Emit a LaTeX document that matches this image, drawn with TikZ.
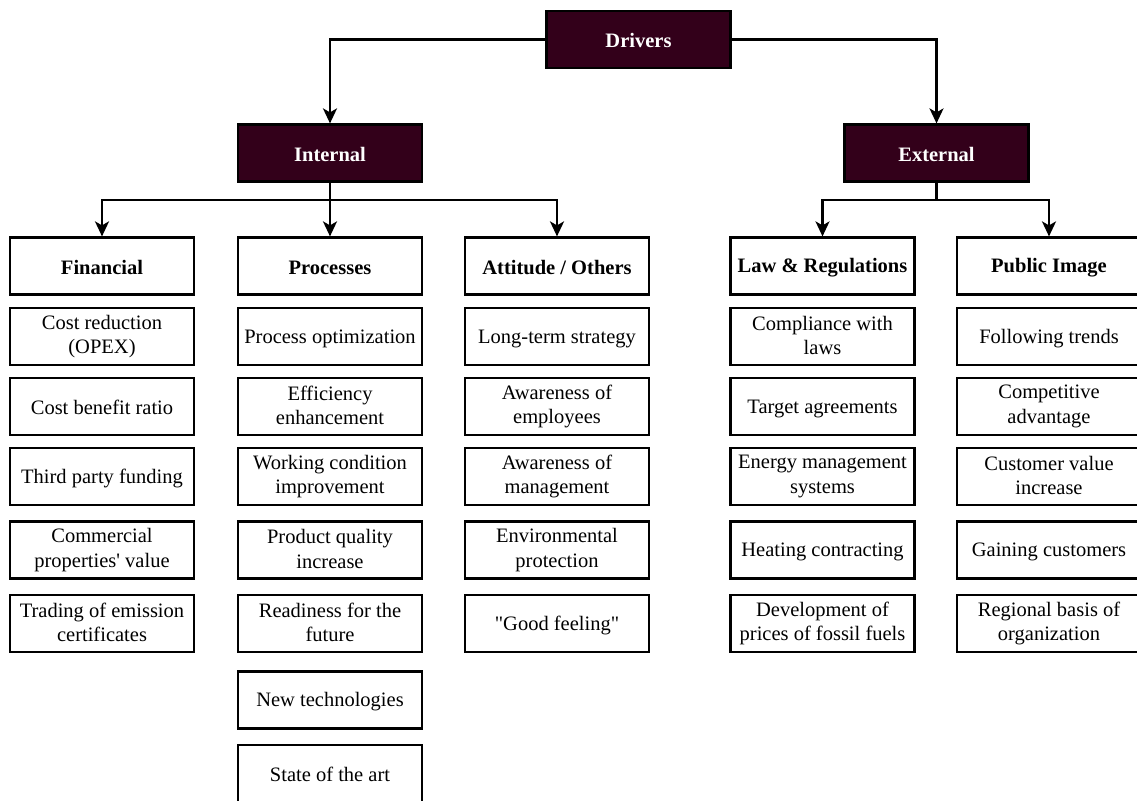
\documentclass[tikz,border=0pt]{standalone}
\usepackage{fontspec}
\setmainfont{Liberation Serif}[Ligatures=TeXOff]
\usetikzlibrary{arrows.meta}
\definecolor{darkbox}{HTML}{33001A}
\newcommand\boxstrut{\rule[-2pt]{0pt}{20pt}}
\tikzset{
  box/.style={draw=black, line width=2.2pt, minimum width=184pt, minimum height=57pt,
    inner sep=0pt, align=center, fill=white, font=\fontsize{20.5}{24.5}\selectfont,
    execute at begin node=\boxstrut, execute at end node=\boxstrut},
  head/.style={box, font=\fontsize{20.5}{24.5}\selectfont\bfseries},
  topbox/.style={head, fill=darkbox, text=white},
  link/.style={line width=2.2pt},
  conn/.style={line width=2.2pt, -{Stealth[length=15pt,width=14pt,inset=4pt]}}
}
\begin{document}
\begin{tikzpicture}[x=1pt,y=-1pt]
\useasboundingbox (0,0) rectangle (1137,800);
\clip (0,0) rectangle (1137,800);

% top level
\node[topbox] (drivers) at (638.5,39.5) {Drivers};
\node[topbox] (internal) at (330,153) {Internal};
\node[topbox] (external) at (936.5,153) {External};

% headers
\node[head] (fin) at (102,266) {Financial};
\node[head] (proc) at (330,266) {Processes};
\node[head] (att) at (557,266) {Attitude / Others};
\node[head] (law) at (822.5,266) {Law \& Regulations};
\node[head] (pub) at (1049,266) {Public Image};

% Financial
\node[box] (f1) at (102,336.5) {Cost reduction\\(OPEX)};
\node[box] (f2) at (102,406.5) {Cost benefit ratio};
\node[box] (f3) at (102,476.5) {Third party funding};
\node[box] (f4) at (102,550) {Commercial\\properties' value};
\node[box] (f5) at (102,623.5) {Trading of emission\\certificates};

% Processes
\node[box] (p1) at (330,336.5) {Process optimization};
\node[box] (p2) at (330,406.5) {Efficiency\\enhancement};
\node[box] (p3) at (330,476.5) {Working condition\\improvement};
\node[box] (p4) at (330,550) {Product quality\\increase};
\node[box] (p5) at (330,623.5) {Readiness for the\\future};
\node[box] (p6) at (330,700) {New technologies};
\node[box] (p7) at (330,773.5) {State of the art};

% Attitude / Others
\node[box] (a1) at (557,336.5) {Long-term strategy};
\node[box] (a2) at (557,406.5) {Awareness of\\employees};
\node[box] (a3) at (557,476.5) {Awareness of\\management};
\node[box] (a4) at (557,550) {Environmental\\protection};
\node[box] (a5) at (557,623.5) {"Good feeling"};

% Law & Regulations
\node[box] (l1) at (822.5,336.5) {Compliance with\\laws};
\node[box] (l2) at (822.5,406.5) {Target agreements};
\node[box] (l3) at (822.5,476.5) {Energy management\\systems};
\node[box] (l4) at (822.5,550) {Heating contracting};
\node[box] (l5) at (822.5,623.5) {Development of\\prices of fossil fuels};

% Public Image
\node[box] (u1) at (1049,336.5) {Following trends};
\node[box] (u2) at (1049,406.5) {Competitive\\advantage};
\node[box] (u3) at (1049,476.5) {Customer value\\increase};
\node[box] (u4) at (1049,550) {Gaining customers};
\node[box] (u5) at (1049,623.5) {Regional basis of\\organization};

% connectors
\draw[conn] (drivers.west) -| (internal.north);
\draw[conn] (drivers.east) -| (external.north);

\coordinate (ij) at (330,200);
\draw[link] (internal.south) -- (ij);
\draw[conn] (ij) -| (fin.north);
\draw[conn] (ij) -- (proc.north);
\draw[conn] (ij) -| (att.north);

\coordinate (ej) at (936.5,200);
\draw[link] (external.south) -- (ej);
\draw[conn] (ej) -| (law.north);
\draw[conn] (ej) -| (pub.north);
\end{tikzpicture}
\end{document}
